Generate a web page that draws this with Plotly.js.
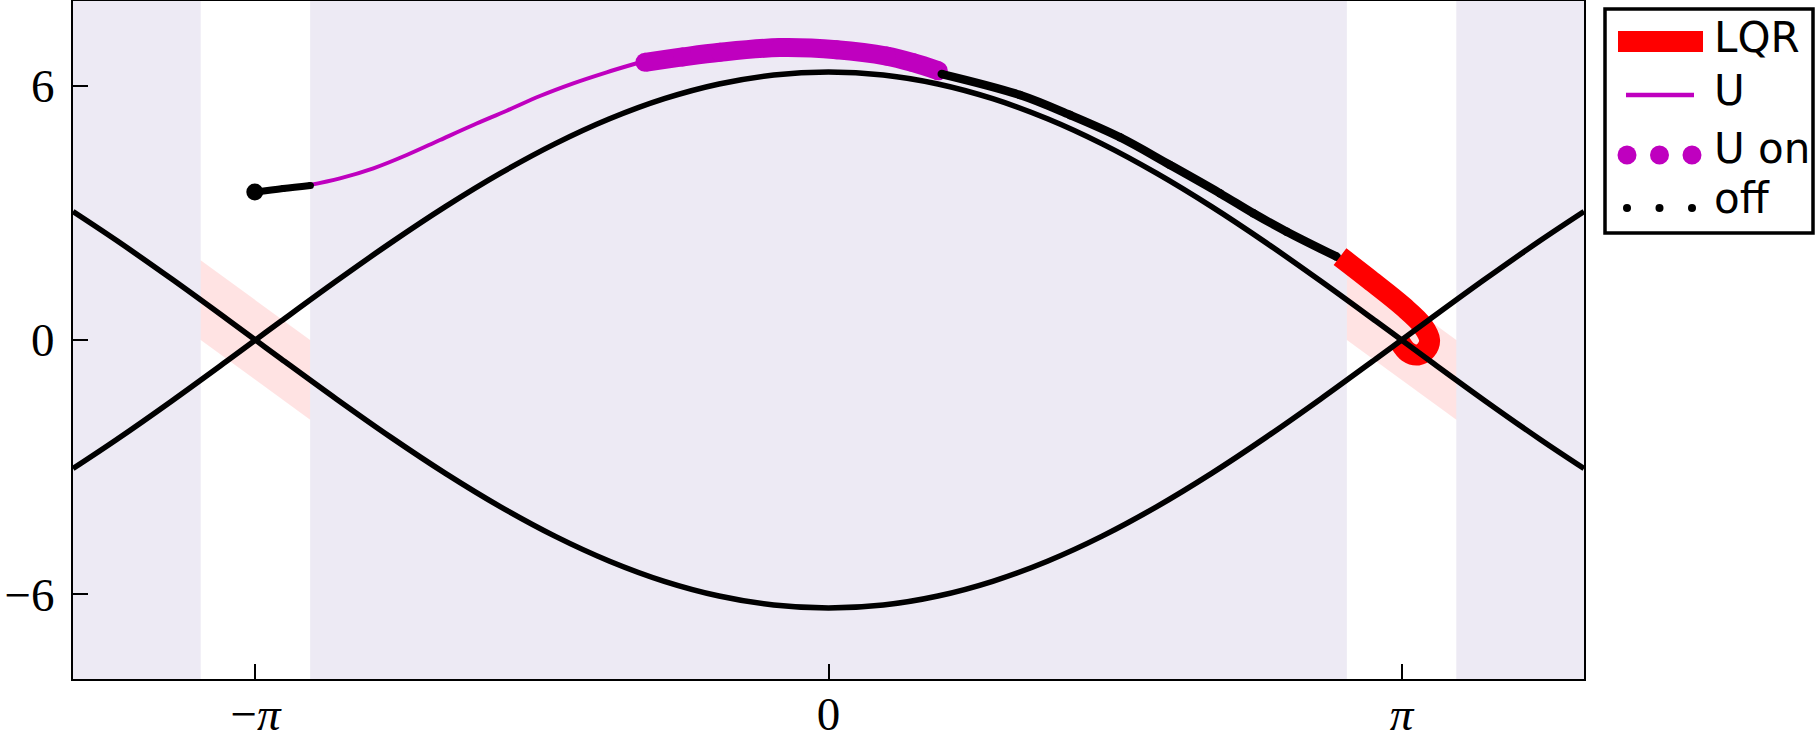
<!DOCTYPE html>
<html>
<head>
<meta charset="utf-8">
<script src="https://cdn.plot.ly/plotly-3.0.1.min.js"></script>
<style>html,body{margin:0;padding:0;background:#fff;}#plot{width:1816px;height:739px;}</style>
</head>
<body>
<div id="plot"></div>
<script>
// ---------- data ----------
const PI = Math.PI;
// separatrix curves (theta, omega)
const sepTheta = [-4.1416, -3.9, -3.6, -3.3, -3.1416, -3.0, -2.7, -2.4, -2.1, -1.8, -1.5, -1.2, -0.9, -0.6, -0.3, 0, 0.3, 0.6, 0.9, 1.2, 1.5, 1.8, 2.1, 2.4, 2.7, 3.0, 3.1416, 3.3, 3.6, 3.9, 4.1416];
const sepUpper = [-3.032, -2.341, -1.437, -0.501, 0, 0.447, 1.385, 2.292, 3.147, 3.931, 4.628, 5.220, 5.695, 6.042, 6.254, 6.325, 6.254, 6.042, 5.695, 5.220, 4.628, 3.931, 3.147, 2.292, 1.385, 0.447, 0, -0.501, -1.437, -2.341, -3.032];
const sepLower = [3.032, 2.341, 1.437, 0.501, 0, -0.447, -1.385, -2.292, -3.147, -3.931, -4.628, -5.220, -5.695, -6.042, -6.254, -6.325, -6.254, -6.042, -5.695, -5.220, -4.628, -3.931, -3.147, -2.292, -1.385, -0.447, 0, 0.501, 1.437, 2.341, 3.032];

// trajectory pieces
const off1Theta = [-3.145, -2.99, -2.84];
const off1Omega = [3.49, 3.575, 3.645];

const uTheta = [-2.852, -2.678, -2.495, -2.312, -2.130, -1.947, -1.764, -1.582, -1.399, -1.216, -1.051];
const uOmega = [3.651, 3.815, 4.052, 4.366, 4.720, 5.074, 5.411, 5.758, 6.057, 6.317, 6.530];

const uOnTheta = [-1.006, -0.80, -0.595, -0.266, 0.045, 0.319, 0.46, 0.602];
const uOnOmega = [6.553, 6.68, 6.79, 6.90, 6.85, 6.70, 6.55, 6.355];

const off2Theta = [0.621, 1.050, 1.324, 1.598, 1.872, 2.146, 2.329, 2.512, 2.786];
const off2Omega = [6.277, 5.782, 5.31, 4.783, 4.13, 3.462, 2.99, 2.556, 1.966];

const lqrTheta = [2.804, 2.969, 3.151, 3.254, 3.295, 3.275, 3.231, 3.176, 3.132];
const lqrOmega = [1.966, 1.416, 0.786, 0.354, 0.0, -0.236, -0.354, -0.283, -0.047];

// LQR basin bands (parallelograms) around theta = -pi and +pi
const bandCenters = [-PI, PI];
const bandHalfWidth = 0.3;
const bandHeight = 1.88;

// legend
const legendLabels = ['LQR', 'U', 'U on', 'off'];

// tick labels
const xTickVals = [-PI, 0, PI];
const xTickText = ['\u2212<i>\u03C0</i>', '0', '<i>\u03C0</i>'];
const yTickVals = [-6, 0, 6];
const yTickText = ['\u22126', '0', '6'];

// ---------- styling / layout ----------
const MAG = '#BF00BF';
const RED = '#FF0000';
const LAV = '#EDEAF4';
const XR = [-PI - 1, PI + 1];
const YR = [-8, 8];

const W = 1816, H = 739;
const M = {l: 73, r: 232, t: 1, b: 60};
const PW = W - M.l - M.r, PH = H - M.t - M.b;
const px = x => (x - M.l) / PW;
const py = y => (M.t + PH - y) / PH;

const traces = [];

// pink LQR bands
bandCenters.forEach(c => {
  traces.push({
    x: [c - bandHalfWidth, c + bandHalfWidth, c + bandHalfWidth, c - bandHalfWidth, c - bandHalfWidth],
    y: [bandHeight, 0, -bandHeight, 0, bandHeight],
    mode: 'lines', fill: 'toself', fillcolor: 'rgba(255,0,0,0.11)',
    line: {width: 0}, hoverinfo: 'skip', showlegend: false
  });
});

// trajectory
traces.push({x: uTheta, y: uOmega, mode: 'lines', line: {color: MAG, width: 4, shape: 'spline'}, name: 'U', showlegend: false});
traces.push({x: uOnTheta, y: uOnOmega, mode: 'lines+markers', line: {color: MAG, width: 19, shape: 'spline'},
  marker: {color: MAG, size: 19, opacity: 1, line: {width: 0}}, name: 'U on', showlegend: false});
traces.push({x: off1Theta, y: off1Omega, mode: 'lines+markers', line: {color: '#000', width: 7, shape: 'spline'},
  marker: {color: '#000', size: [17, 7, 7], opacity: 1, line: {width: 0}}, name: 'off', showlegend: false});
traces.push({x: off2Theta, y: off2Omega, mode: 'lines+markers', line: {color: '#000', width: 8.5, shape: 'spline'},
  marker: {color: '#000', size: 8.5, opacity: 1, line: {width: 0}}, name: 'off', showlegend: false});
traces.push({x: lqrTheta, y: lqrOmega, mode: 'lines', line: {color: RED, width: 21, shape: 'spline'}, name: 'LQR', showlegend: false});

// separatrices on top
traces.push({x: sepTheta, y: sepUpper, mode: 'lines', line: {color: '#000', width: 5.5, shape: 'spline'}, showlegend: false, hoverinfo: 'skip'});
traces.push({x: sepTheta, y: sepLower, mode: 'lines', line: {color: '#000', width: 5.5, shape: 'spline'}, showlegend: false, hoverinfo: 'skip'});

// background shading (lavender except white bands at +-pi)
const shadeSpans = [[XR[0], -PI - bandHalfWidth], [-PI + bandHalfWidth, PI - bandHalfWidth], [PI + bandHalfWidth, XR[1]]];
const shapes = shadeSpans.map(s => ({type: 'rect', xref: 'x', yref: 'paper', x0: s[0], x1: s[1], y0: 0, y1: 1,
  fillcolor: LAV, line: {width: 0}, layer: 'below'}));

// custom legend
shapes.push({type: 'rect', xref: 'paper', yref: 'paper', x0: px(1605), x1: px(1813), y0: py(9), y1: py(233),
  line: {color: '#000', width: 3.5}, fillcolor: '#fff', layer: 'above'});
shapes.push({type: 'rect', xref: 'paper', yref: 'paper', x0: px(1618), x1: px(1703), y0: py(31), y1: py(52),
  line: {width: 0}, fillcolor: RED, layer: 'above'});
shapes.push({type: 'line', xref: 'paper', yref: 'paper', x0: px(1626), x1: px(1694), y0: py(95), y1: py(95),
  line: {color: MAG, width: 4.5}, layer: 'above'});
[1627, 1659.5, 1692].forEach(cx => {
  const r = 9.5, cy = 155;
  shapes.push({type: 'circle', xref: 'paper', yref: 'paper', x0: px(cx - r), x1: px(cx + r), y0: py(cy + r), y1: py(cy - r),
    line: {width: 0}, fillcolor: MAG, layer: 'above'});
  const r2 = 4, cy2 = 208;
  shapes.push({type: 'circle', xref: 'paper', yref: 'paper', x0: px(cx - r2), x1: px(cx + r2), y0: py(cy2 + r2), y1: py(cy2 - r2),
    line: {width: 0}, fillcolor: '#000', layer: 'above'});
});
const legY = [37.5, 91, 149, 198];
const annotations = legendLabels.map((t, i) => ({
  text: t, xref: 'paper', yref: 'paper', x: px(1712), y: py(legY[i]), xanchor: 'left', yanchor: 'middle',
  showarrow: false, font: {family: 'DejaVu Sans', size: 42, color: '#000'}
}));

const axisCommon = {
  showgrid: false, zeroline: false, showline: true, mirror: true, linecolor: '#000', linewidth: 2,
  ticks: 'inside', ticklen: 15, tickwidth: 2, tickcolor: '#000',
  tickfont: {family: 'Liberation Serif', size: 47, color: '#000'}, tickmode: 'array'
};

const layout = {
  width: W, height: H, margin: M,
  paper_bgcolor: '#fff', plot_bgcolor: '#fff',
  showlegend: false,
  xaxis: Object.assign({}, axisCommon, {range: XR, tickvals: xTickVals, ticktext: xTickText, ticklabelstandoff: -7}),
  yaxis: Object.assign({}, axisCommon, {range: YR, tickvals: yTickVals, ticktext: yTickText, ticklabelstandoff: 7}),
  shapes: shapes, annotations: annotations
};

Plotly.newPlot('plot', traces, layout, {displayModeBar: false, staticPlot: true});
</script>
</body>
</html>
